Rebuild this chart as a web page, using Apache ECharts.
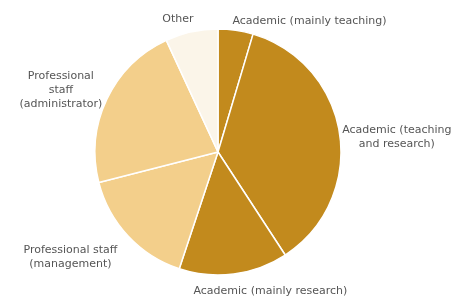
<!DOCTYPE html>
<html>
<head>
<meta charset="utf-8">
<script src="https://cdn.jsdelivr.net/npm/echarts@6/dist/echarts.min.js"></script>
<style>
  html, body { margin: 0; padding: 0; background: #fff; }
  #chart { width: 456px; height: 299px; }
</style>
</head>
<body>
<div id="chart"></div>
<script>
var categories = [
    'Academic (mainly teaching)',
    'Academic (teaching\nand research)',
    'Academic (mainly research)',
    'Professional staff\n(management)',
    'Professional\nstaff\n(administrator)',
    'Other'
]
var shares = [4.6, 36.2, 14.3, 15.9, 22.1, 6.9]
var colors = ['#c28a1d', '#c28a1d', '#c28a1d', '#f3cf8b', '#f3cf8b', '#fbf5e9']
// small nudges so labels sit where the original put them
var labelShift = [[-9, -4], [-6, 4], [-46, 12], [-2, 18], [5, -7], [8, -8]]

var echart = echarts.init(document.getElementById('chart'))

var data = categories.map(function (name, i) {
    return { name: name, value: shares[i], itemStyle: { color: colors[i] } }
})

option = {
    animation: false,
    series: [
        {
            type: 'pie',
            radius: 123,
            center: [218, 152],
            startAngle: 90,
            data: data,
            itemStyle: {
                borderColor: '#fff',
                borderWidth: 1.5
            },
            label: {
                show: true,
                position: 'outside',
                overflow: 'none',
                bleedMargin: 0,
                fontFamily: 'DejaVu Sans',
                fontSize: 11,
                lineHeight: 14,
                color: '#555',
                formatter: function (p) {
                    return p.name.split('\n').map(function (l) {
                        return '{c|' + l + '}'
                    }).join('\n')
                },
                rich: {
                    c: { align: 'center', fontFamily: 'DejaVu Sans', fontSize: 11, lineHeight: 14, color: '#555' }
                }
            },
            labelLine: { show: false, length: 5, length2: 0 },
            labelLayout: function (p) {
                var s = labelShift[p.dataIndex]
                return { dx: s[0], dy: s[1] }
            }
        }
    ]
}

echart.setOption(option)
</script>
</body>
</html>
